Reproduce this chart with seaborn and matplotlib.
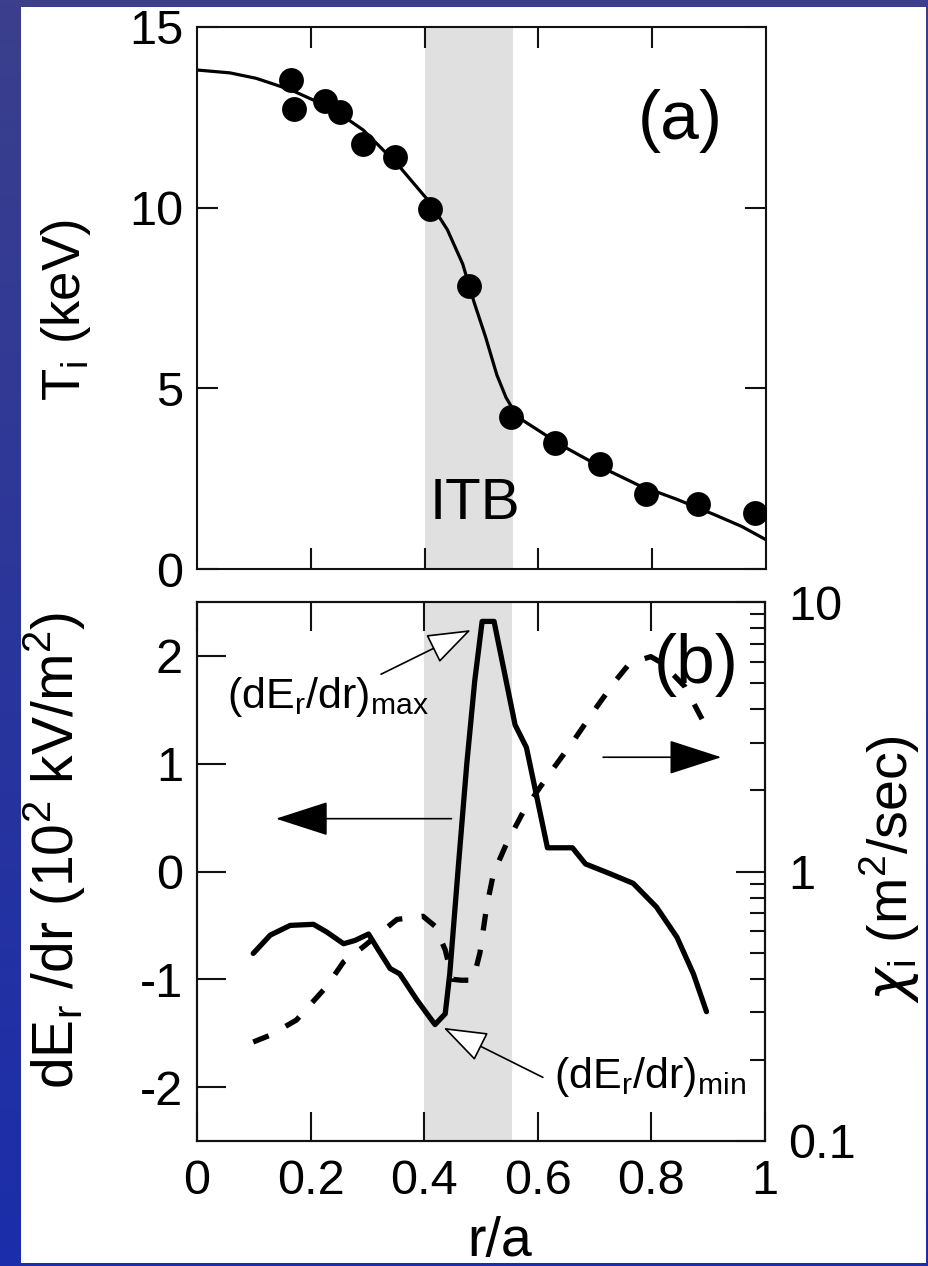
import matplotlib
matplotlib.use("Agg")
import matplotlib.pyplot as plt
import matplotlib.ticker as mticker
import numpy as np
import seaborn as sns
from matplotlib.patches import Rectangle

# ---- panel (a): ion temperature, measured points + fitted profile ----
ti_r = [0.165, 0.170, 0.225, 0.251, 0.292, 0.348, 0.410, 0.478, 0.552, 0.629, 0.709, 0.789, 0.880, 0.981]
ti_kev = [13.52, 12.73, 12.94, 12.64, 11.75, 11.40, 9.96, 7.82, 4.22, 3.50, 2.91, 2.08, 1.79, 1.55]
fit_r = [0.0, 0.058, 0.104, 0.165, 0.239, 0.292, 0.353, 0.410, 0.440, 0.467, 0.487, 0.507,
         0.527, 0.543, 0.556, 0.574, 0.642, 0.709, 0.776, 0.843, 0.910, 0.957, 1.0]
fit_kev = [13.81, 13.73, 13.58, 13.26, 12.73, 12.15, 11.19, 10.13, 9.39, 8.44, 7.38, 6.43,
           5.37, 4.75, 4.40, 4.10, 3.41, 2.83, 2.32, 1.93, 1.50, 1.18, 0.81]

# ---- panel (b): dEr/dr (left axis) and chi_i (right, log axis) ----
er_r = [0.099, 0.129, 0.164, 0.205, 0.228, 0.258, 0.278, 0.302, 0.316, 0.340, 0.357, 0.387,
        0.419, 0.437, 0.445, 0.460, 0.475, 0.489, 0.502, 0.523, 0.560, 0.580, 0.617, 0.661,
        0.684, 0.727, 0.768, 0.809, 0.845, 0.874, 0.897]
der_dr = [-0.76, -0.59, -0.50, -0.49, -0.56, -0.67, -0.64, -0.58, -0.70, -0.90, -0.95, -1.19,
          -1.42, -1.32, -0.95, 0.04, 1.00, 1.77, 2.32, 2.32, 1.36, 1.15, 0.22, 0.22,
          0.07, -0.02, -0.11, -0.33, -0.61, -0.95, -1.30]
chi_r = [0.099, 0.129, 0.175, 0.228, 0.258, 0.293, 0.352, 0.398, 0.419, 0.437, 0.450, 0.465,
         0.486, 0.498, 0.510, 0.522, 0.545, 0.576, 0.617, 0.664, 0.704, 0.738, 0.762, 0.799,
         0.819, 0.859, 0.893, 0.903]
chi_i = [0.233, 0.247, 0.281, 0.374, 0.462, 0.526, 0.664, 0.682, 0.627, 0.512, 0.398, 0.395,
         0.395, 0.498, 0.741, 0.984, 1.27, 1.69, 2.25, 3.08, 4.09, 5.14, 5.93, 6.27,
         5.93, 4.85, 3.55, 3.16]

itb_band = (0.40, 0.555)
x_ticks = [0, 0.2, 0.4, 0.6, 0.8, 1]
x_labels = ["0", "0.2", "0.4", "0.6", "0.8", "1"]
ti_ticks = [0, 5, 10, 15]
er_ticks = [-2, -1, 0, 1, 2]
chi_ticks = [0.1, 1, 10]
chi_labels = ["0.1", "1", "10"]

sns.set_theme(style="ticks")
plt.rcParams["font.family"] = ["Liberation Sans", "DejaVu Sans"]
plt.rcParams["mathtext.fontset"] = "custom"
plt.rcParams["mathtext.rm"] = "Liberation Sans"
plt.rcParams["mathtext.it"] = "DejaVu Sans:italic"
plt.rcParams["axes.unicode_minus"] = False
plt.rcParams["lines.scale_dashes"] = False
for key in ("text.color", "axes.labelcolor", "xtick.color", "ytick.color", "axes.edgecolor"):
    plt.rcParams[key] = "black"

W, H = 929, 1266
fig = plt.figure(figsize=(W / 100, H / 100), dpi=100)

# blue slide frame with white inner area
bg = fig.add_axes([0, 0, 1, 1], zorder=-10)
bg.axis("off")
top_c = np.array([59, 63, 140]) / 255
bot_c = np.array([27, 45, 170]) / 255
t = np.linspace(0, 1, 256)[:, None]
grad = (top_c[None, :] * (1 - t) + bot_c[None, :] * t)[:, None, :]
bg.imshow(grad, aspect="auto", extent=[0, 1, 0, 1])
bg.add_patch(Rectangle((21 / W, 3 / H), 905 / W, 1256 / H, transform=bg.transAxes,
                       fc="white", ec="none"))
bg.set_xlim(0, 1)
bg.set_ylim(0, 1)

ax_a = fig.add_axes([197 / W, 1 - 569 / H, 569 / W, 542 / H])
ax_b = fig.add_axes([197 / W, 1 - 1141 / H, 568 / W, 539 / H])

for ax in (ax_a, ax_b):
    ax.set_facecolor("white")
    ax.axvspan(*itb_band, color="#e0e0e0", lw=0, zorder=0)
    for s in ax.spines.values():
        s.set_linewidth(1.5)
        s.set_color("#111111")

# ---- (a) ----
sns.lineplot(x=fit_r, y=fit_kev, ax=ax_a, color="black", lw=2.3, sort=False, estimator=None)
sns.scatterplot(x=ti_r, y=ti_kev, ax=ax_a, color="black", s=320, linewidth=0, zorder=3)
ax_a.set_xlim(0, 1)
ax_a.set_ylim(0, 15)
ax_a.set_xticks(x_ticks[1:-1])
ax_a.set_yticks(ti_ticks)
ax_a.tick_params(direction="in", length=15, width=1.5, color="#111111", labelsize=35,
                 top=True, right=True, labelbottom=False, pad=10)
ax_a.set_xlabel("")
ax_a.set_ylabel("")
ax_a.text(0.85, 12.4, "(a)", fontsize=50, ha="center", va="center")
ax_a.text(0.489, 1.39, "ITB", fontsize=42, ha="center", va="baseline")

# ---- (b) ----
sns.lineplot(x=er_r, y=der_dr, ax=ax_b, color="black", lw=3.8, sort=False, estimator=None)
ax_b.set_xlim(0, 1)
ax_b.set_ylim(-2.5, 2.5)
ax_b.set_xticks(x_ticks)
ax_b.set_xticklabels(x_labels)
ax_b.set_yticks(er_ticks)
ax_b.tick_params(direction="in", length=21, width=1.5, color="#111111", labelsize=35,
                 top=True, right=False, pad=10)
ax_b.tick_params(axis="x", pad=13)
ax_b.set_xlabel("")
ax_b.set_ylabel("")

ax2 = ax_b.twinx()
ax2.set_yscale("log")
ax2.set_ylim(0.1, 10)
sns.lineplot(x=chi_r, y=chi_i, ax=ax2, color="black", lw=3.8, sort=False, estimator=None)
chi_line = ax2.lines[-1]
chi_line.set_linestyle((0, (12, 14)))
chi_line.set_dash_capstyle("butt")
ax2.set_yticks(chi_ticks)
ax2.set_yticklabels(chi_labels)
ax2.yaxis.set_minor_locator(mticker.LogLocator(base=10, subs=range(2, 10)))
ax2.yaxis.set_minor_formatter(mticker.NullFormatter())
ax2.tick_params(which="major", direction="in", length=21, width=1.5, color="#111111",
                labelsize=35, pad=17)
ax2.tick_params(which="minor", direction="in", length=11, width=1.5, color="#111111")
ax2.set_ylabel("")
for s in ax2.spines.values():
    s.set_linewidth(1.5)
    s.set_color("#111111")

filled = dict(arrowstyle="-|>,head_length=34,head_width=11", mutation_scale=1, lw=1.2,
              color="black", shrinkA=0, shrinkB=0)
hollow = dict(arrowstyle="-|>,head_length=28,head_width=10", mutation_scale=1, lw=1.2,
              fc="white", ec="black", shrinkA=0, shrinkB=0)
ax_b.annotate("", xy=(0.139, 0.49), xytext=(0.448, 0.49), arrowprops=filled)
ax_b.annotate("", xy=(0.923, 1.06), xytext=(0.715, 1.06), arrowprops=filled)
ax_b.annotate("", xy=(0.482, 2.24), xytext=(0.324, 1.83), arrowprops=hollow)
ax_b.annotate("", xy=(0.434, -1.45), xytext=(0.609, -1.91), arrowprops=hollow)
ax_b.text(0.052, 1.52, r"(dE$_\mathregular{r}$/dr)$_\mathregular{max}$", fontsize=31,
          ha="left", va="baseline")
ax_b.text(0.628, -2.01, r"(dE$_\mathregular{r}$/dr)$_\mathregular{min}$", fontsize=31,
          ha="left", va="baseline")
ax_b.text(0.878, 1.92, "(b)", fontsize=50, ha="center", va="center")

# axis titles placed in figure pixels
fig.text(66 / W, 1 - 310 / H, r"T$_\mathregular{i}$ (keV)", fontsize=38, rotation=90,
         ha="center", va="center")
fig.text(55 / W, 1 - 850 / H, r"dE$_\mathregular{r}$ /dr (10$^\mathregular{2}$ kV/m$^\mathregular{2}$)",
         fontsize=41, rotation=90, ha="center", va="center")
fig.text(890 / W, 1 - 869 / H, r"$\chi_\mathregular{i}$ (m$^\mathregular{2}$/sec)", fontsize=40,
         rotation=90, ha="center", va="center")
fig.text(500 / W, 1 - 1256 / H, "r/a", fontsize=40, ha="center", va="baseline")

fig.savefig("out.png", dpi=100)
